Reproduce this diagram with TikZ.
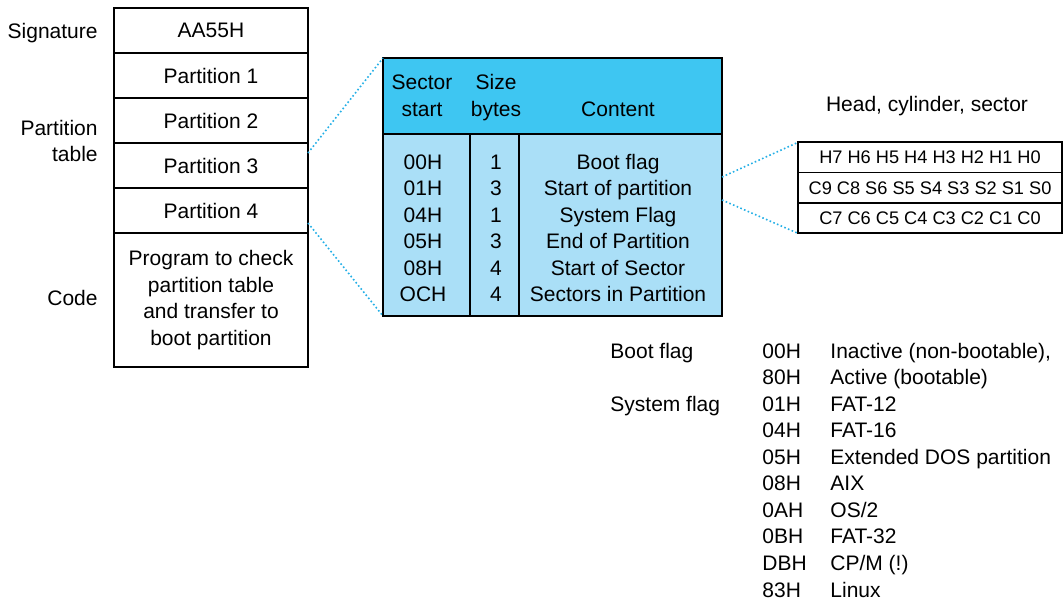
\documentclass[tikz,border=0pt]{standalone}
\usepackage{fontspec}
\setmainfont{Liberation Sans}
\usetikzlibrary{positioning}

\definecolor{headblue}{RGB}{62,198,242}
\definecolor{bodyblue}{RGB}{170,223,247}
\definecolor{linkblue}{RGB}{35,175,230}

\newcommand{\mbrfont}{\fontsize{10.5}{13.3}\selectfont}
\newcommand{\chsfont}{\fontsize{9.1}{11}\selectfont}

\tikzset{
  cell/.style={draw, line width=0.7pt, inner sep=0pt, outer sep=0pt,
    minimum width=97pt, minimum height=22.5pt, align=center, font=\mbrfont},
  col/.style={draw, fill=bodyblue, line width=0.7pt, inner sep=0pt, outer sep=0pt,
    minimum height=91pt},
  chs/.style={draw, line width=0.7pt, inner sep=0pt, outer sep=0pt,
    minimum width=132pt, minimum height=15.17pt, font=\chsfont},
  lbl/.style={inner sep=0pt, font=\mbrfont},
  frame/.style={draw, line width=1.25pt},
  link/.style={draw=linkblue, line width=0.8pt, dash pattern=on 0.8pt off 1.2pt},
}

\begin{document}
\begin{tikzpicture}[x=0.5pt,y=-0.5pt]
\useasboundingbox (0,0) rectangle (1063,601);

% master boot record
\node[cell] (sig) at (211,30.5) {AA55H};
\node[cell, below=0pt of sig] (p1) {Partition 1};
\node[cell, below=0pt of p1] (p2) {Partition 2};
\node[cell, below=0pt of p2] (p3) {Partition 3};
\node[cell, below=0pt of p3] (p4) {Partition 4};
\node[cell, minimum height=67pt, below=0pt of p4] (code) {Program to check\\partition table\\and transfer to\\boot partition};
\draw[frame] (sig.north west) rectangle (code.south east);
\draw[line width=1.25pt] (code.north west) -- (code.north east);

\node[lbl, anchor=base east] (lsig) at (98,38.5) {Signature};
\node[lbl, anchor=east, align=right] (lpart) at (98,141) {Partition\\table};
\node[lbl, anchor=base east] (lcode) at (98,305) {Code};

% partition entry
\node[col, minimum width=43.5pt] (c1) at (426.5,225) {};
\node[col, minimum width=24.5pt, right=0pt of c1] (c2) {};
\node[col, minimum width=101.5pt, right=0pt of c2] (c3) {};
\node[draw, fill=headblue, line width=0.7pt, inner sep=0pt, outer sep=0pt,
  minimum width=169.5pt, minimum height=38pt] (hdr) at (552.5,96) {};
\draw[frame] (hdr.north west) rectangle (c3.south east);

\node[lbl, align=center] (h1) at (422,95.5) {Sector\\start};
\node[lbl, align=center] (h2) at (496,97.7) {Size\\bytes};
\node[lbl, anchor=base] (h3) at (618,116) {Content};

\foreach \s/\n/\c [count=\i] in {00H/1/Boot flag, 01H/3/Start of partition,
    04H/1/System Flag, 05H/3/End of Partition, 08H/4/Start of Sector,
    OCH/4/Sectors in Partition}
{
  \node[lbl, anchor=base] (s\i) at (423,{142.8+26.5*\i}) {\s};
  \node[lbl, anchor=base] (n\i) at (496,{142.8+26.5*\i}) {\n};
  \node[lbl, anchor=base] (t\i) at (618,{142.8+26.5*\i}) {\c};
}

% head, cylinder, sector
\node[lbl, anchor=base] (chslbl) at (927,111) {Head, cylinder, sector};
\node[chs] (ht1) at (930,157.5) {H7 H6 H5 H4 H3 H2 H1 H0};
\node[chs, below=0pt of ht1] (ht2) {C9 C8 S6 S5 S4 S3 S2 S1 S0};
\node[chs, below=0pt of ht2] (ht3) {C7 C6 C5 C4 C3 C2 C1 C0};
\draw[line width=1.1pt] (ht1.north west) rectangle (ht3.south east);

% dotted links
\coordinate (lk1) at (308,153);
\coordinate (lk2) at (308,223);
\coordinate (lk3) at (722,177);
\coordinate (lk4) at (722,200);
\draw[link] (lk1) -- (hdr.north west);
\draw[link] (lk2) -- (c1.south west);
\draw[link] (lk3) -- (ht1.north west);
\draw[link] (lk4) -- (ht3.south west);

% flag values
\node[lbl, anchor=base west] (bootflag) at (610,358) {Boot flag};
\node[lbl, anchor=base west] (sysflag) at (610,411.1) {System flag};
\foreach \v/\d [count=\i] in {00H/{Inactive (non-bootable),}, 80H/{Active (bootable)},
    01H/FAT-12, 04H/FAT-16, 05H/{Extended DOS partition}, 08H/AIX,
    0AH/{OS/2}, 0BH/FAT-32, DBH/{CP/M (!)}, 83H/Linux}
{
  \node[lbl, anchor=base west] (v\i) at (762,{331.44+26.56*\i}) {\v};
  \node[lbl, anchor=base west] (d\i) at (830,{331.44+26.56*\i}) {\d};
}
\end{tikzpicture}
\end{document}
